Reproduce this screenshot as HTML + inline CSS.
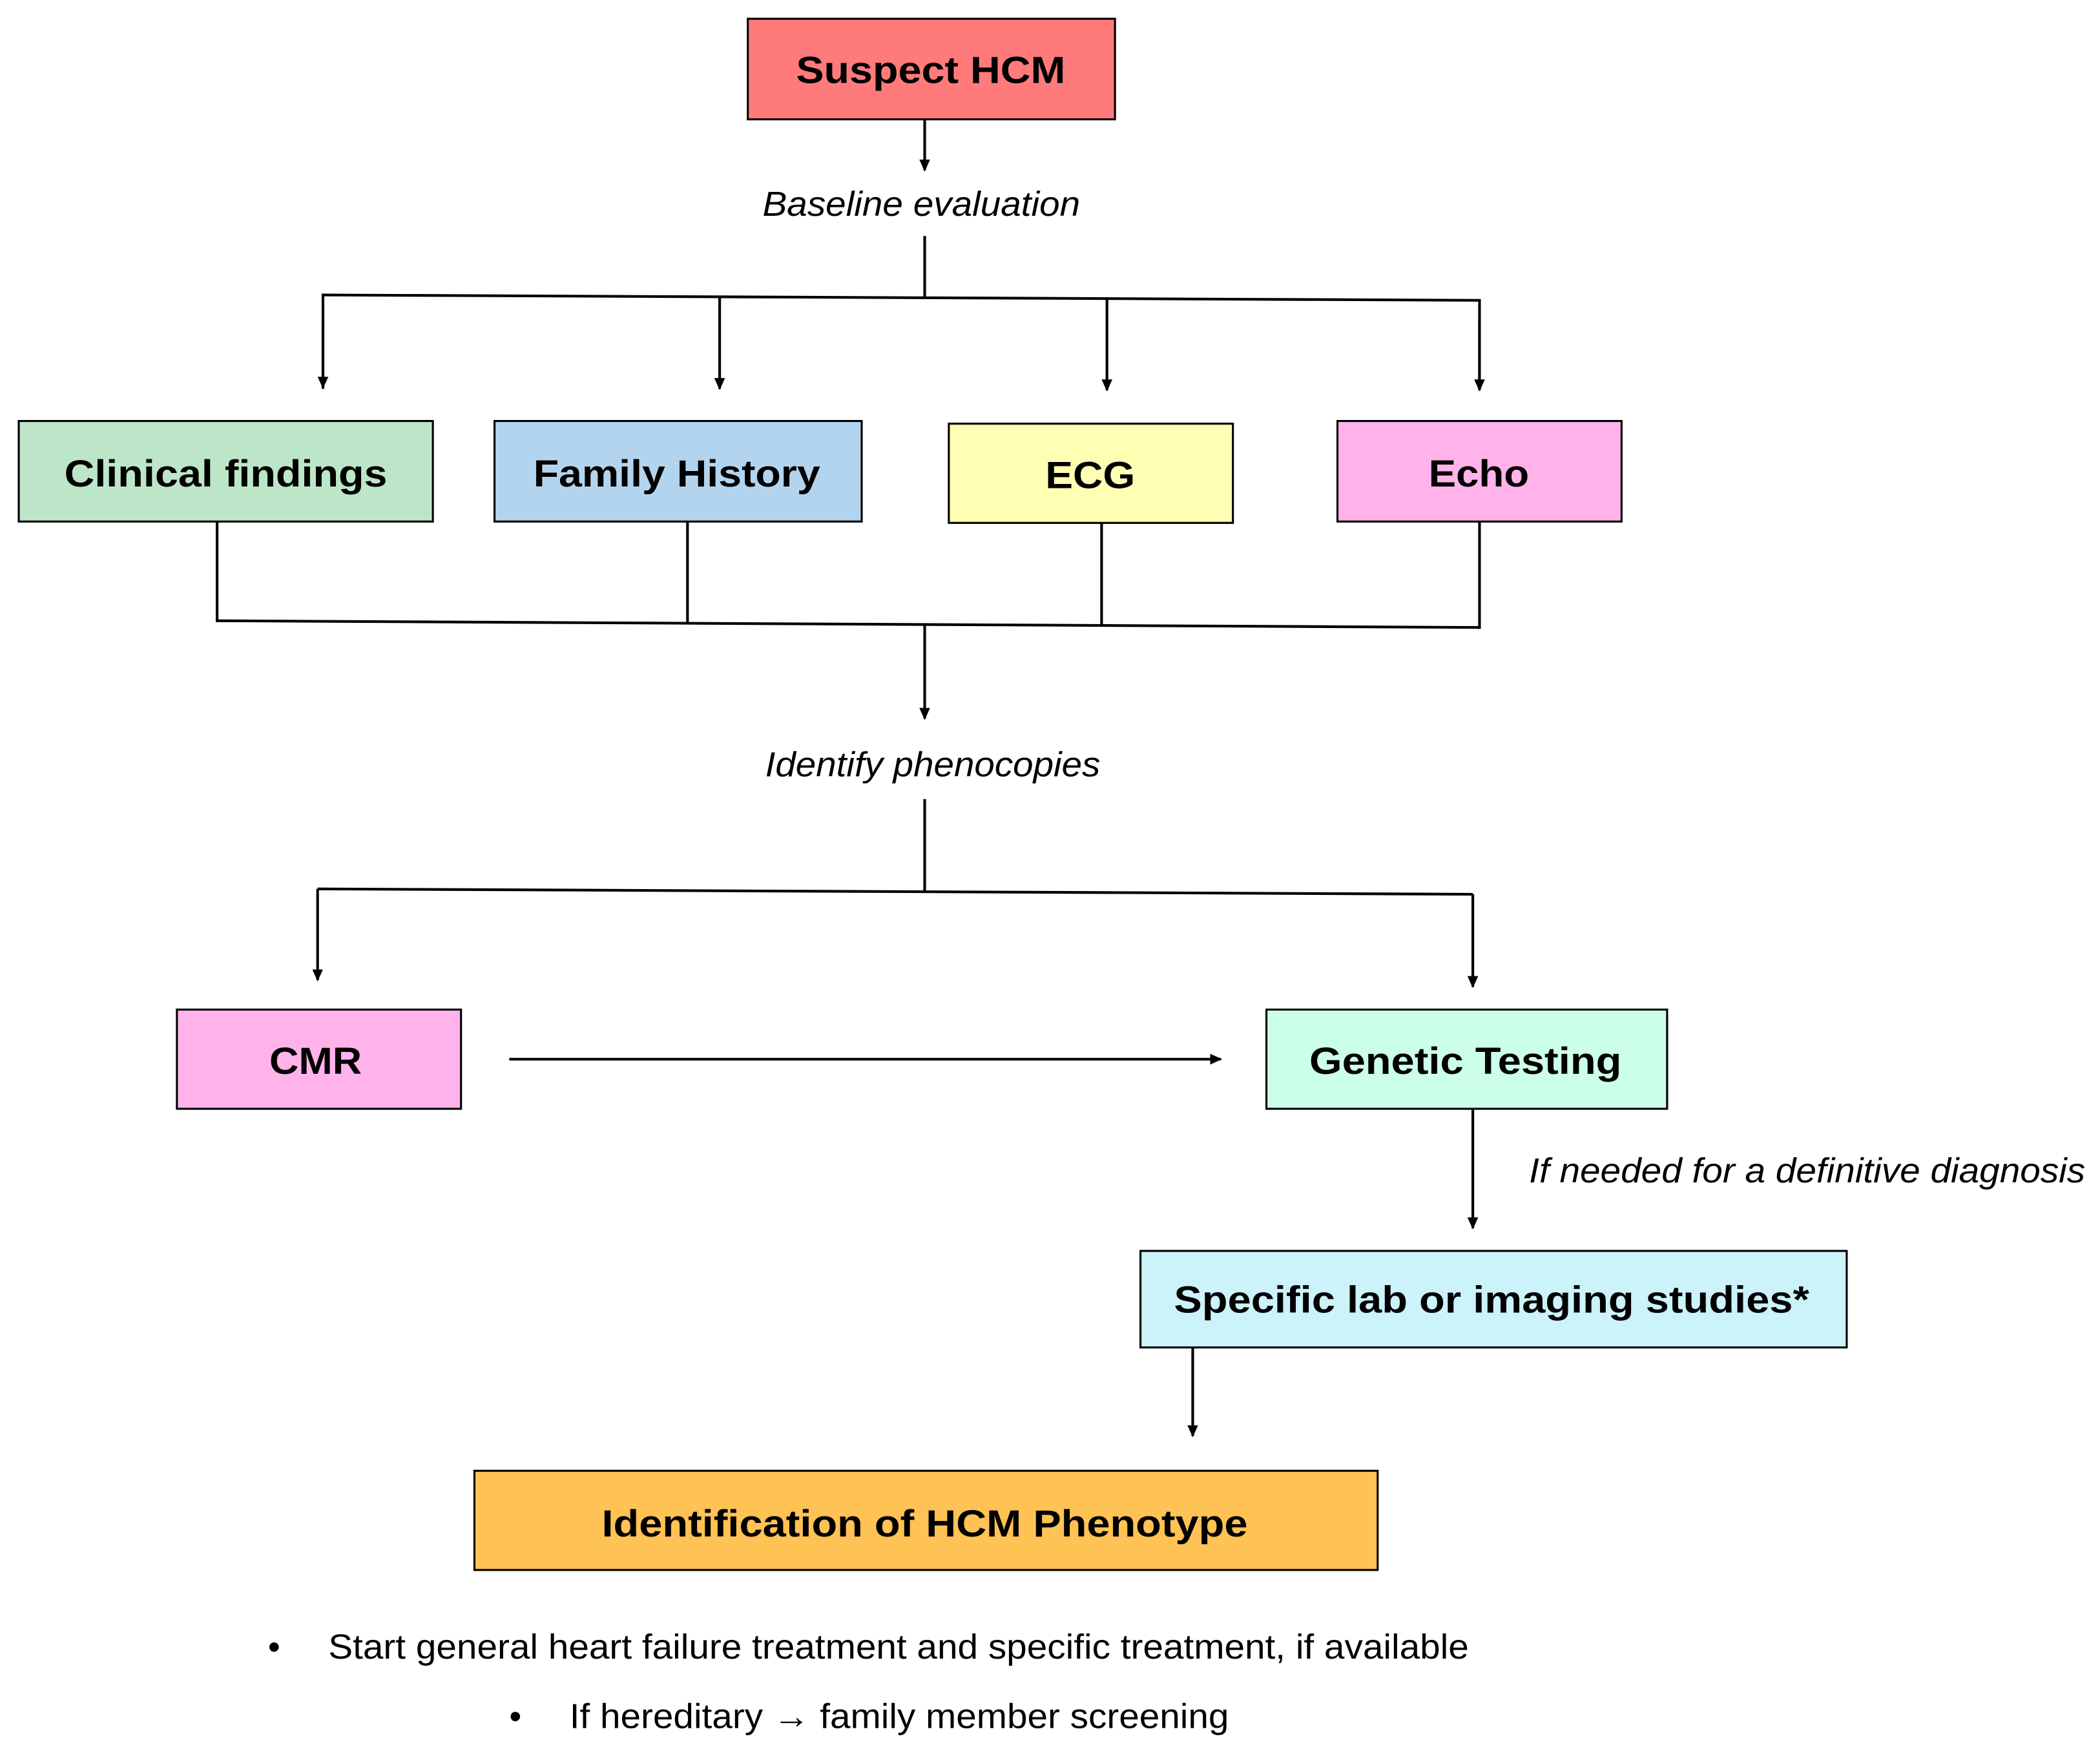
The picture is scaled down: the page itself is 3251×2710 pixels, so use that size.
<!DOCTYPE html>
<html><head><meta charset="utf-8"><style>
html,body{margin:0;padding:0;background:#fff;}
svg{display:block;}
.b{font-family:"Liberation Sans",Arial,sans-serif;font-weight:bold;font-size:28px;fill:#000;}
.i{font-family:"Liberation Sans",Arial,sans-serif;font-style:italic;font-size:26px;fill:#000;}
.n{font-family:"Liberation Sans",Arial,sans-serif;font-size:26px;fill:#000;}
</style></head><body>
<svg width="3251" height="2710" viewBox="0 0 1567 1306" preserveAspectRatio="none" xmlns="http://www.w3.org/2000/svg">
<defs><marker id="a" markerWidth="10" markerHeight="10" refX="8" refY="5" orient="auto" markerUnits="userSpaceOnUse"><path d="M0,1 L9,5 L0,9 z" fill="#000"/></marker></defs>
<rect width="1570" height="1310" fill="#fff"/>
<g stroke="#000" stroke-width="1.5">
<rect x="558" y="14" width="274" height="75" fill="#FF7B7B"/>
<rect x="14" y="314" width="309" height="75" fill="#BDE6C8"/>
<rect x="369" y="314" width="274" height="75" fill="#B3D4EE"/>
<rect x="708" y="316" width="212" height="74" fill="#FFFFB3"/>
<rect x="998" y="314" width="212" height="75" fill="#FFB3EA"/>
<rect x="132" y="753" width="212" height="74" fill="#FFB3EA"/>
<rect x="945" y="753" width="299" height="74" fill="#CCFFE8"/>
<rect x="851" y="933" width="527" height="72" fill="#CCF2FA"/>
<rect x="354" y="1097" width="674" height="74" fill="#FFC254"/>
</g>
<g stroke="#000" stroke-width="2" fill="none">
<line x1="690" y1="89" x2="690" y2="127" marker-end="url(#a)"/>
<line x1="690" y1="176" x2="690" y2="222"/>
<polyline points="241,290 241,220 1104,224 1104,291"/>
<line x1="241" y1="240" x2="241" y2="289" marker-end="url(#a)"/>
<line x1="537" y1="221" x2="537" y2="290" marker-end="url(#a)"/>
<line x1="826" y1="223" x2="826" y2="291" marker-end="url(#a)"/>
<line x1="1104" y1="240" x2="1104" y2="291" marker-end="url(#a)"/>
<line x1="162" y1="389" x2="162" y2="464"/>
<line x1="513" y1="389" x2="513" y2="465"/>
<line x1="822" y1="390" x2="822" y2="467"/>
<line x1="1104" y1="389" x2="1104" y2="469"/>
<line x1="162" y1="463" x2="1104" y2="468"/>
<line x1="690" y1="466" x2="690" y2="536" marker-end="url(#a)"/>
<line x1="690" y1="596" x2="690" y2="665"/>
<line x1="237" y1="663" x2="1099" y2="667"/>
<line x1="237" y1="663" x2="237" y2="731" marker-end="url(#a)"/>
<line x1="1099" y1="667" x2="1099" y2="736" marker-end="url(#a)"/>
<line x1="380" y1="790" x2="911" y2="790" marker-end="url(#a)"/>
<line x1="1099" y1="827" x2="1099" y2="916" marker-end="url(#a)"/>
<line x1="890" y1="1005" x2="890" y2="1071" marker-end="url(#a)"/>
</g>
<text class="b" x="594" y="62" textLength="201" lengthAdjust="spacingAndGlyphs">Suspect HCM</text>
<text class="i" x="569" y="161" textLength="237" lengthAdjust="spacingAndGlyphs">Baseline evaluation</text>
<text class="b" x="48" y="363" textLength="241" lengthAdjust="spacingAndGlyphs">Clinical findings</text>
<text class="b" x="398" y="363" textLength="214" lengthAdjust="spacingAndGlyphs">Family History</text>
<text class="b" x="780" y="364" textLength="67" lengthAdjust="spacingAndGlyphs">ECG</text>
<text class="b" x="1066" y="363" textLength="75" lengthAdjust="spacingAndGlyphs">Echo</text>
<text class="i" x="571" y="579" textLength="250" lengthAdjust="spacingAndGlyphs">Identify phenocopies</text>
<text class="b" x="201" y="801" textLength="69" lengthAdjust="spacingAndGlyphs">CMR</text>
<text class="b" x="977" y="801" textLength="233" lengthAdjust="spacingAndGlyphs">Genetic Testing</text>
<text class="i" x="1141" y="882" textLength="415" lengthAdjust="spacingAndGlyphs">If needed for a definitive diagnosis</text>
<text class="b" x="876" y="979" textLength="474" lengthAdjust="spacingAndGlyphs">Specific lab or imaging studies*</text>
<text class="b" x="449" y="1146" textLength="482" lengthAdjust="spacingAndGlyphs">Identification of HCM Phenotype</text>
<text class="n" x="200" y="1237">•</text>
<text class="n" x="245" y="1237" textLength="851" lengthAdjust="spacingAndGlyphs">Start general heart failure treatment and specific treatment, if available</text>
<text class="n" x="380" y="1289">•</text>
<text class="n" x="425" y="1289" textLength="492" lengthAdjust="spacingAndGlyphs">If hereditary → family member screening</text>
</svg>
</body></html>
